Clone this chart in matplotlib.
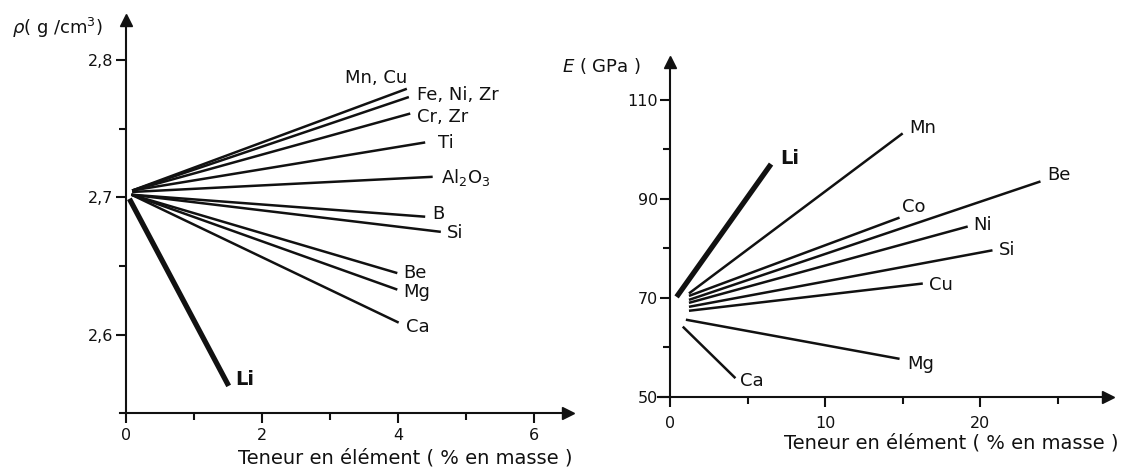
import matplotlib.pyplot as plt

# Masse volumique : droites partant de l'alliage de base (2,70 g/cm3)
rho_noms = ['Mn, Cu', 'Fe, Ni, Zr', 'Cr, Zr', 'Ti', 'Al$_2$O$_3$',
            'B', 'Si', 'Be', 'Mg', 'Ca', 'Li']
rho_x0 = [0.09, 0.09, 0.09, 0.09, 0.09, 0.08, 0.08, 0.08, 0.08, 0.08, 0.05]
rho_y0 = [2.705, 2.705, 2.705, 2.705, 2.704, 2.702, 2.702, 2.702, 2.702, 2.702, 2.699]
rho_x1 = [4.13, 4.16, 4.18, 4.40, 4.51, 4.40, 4.63, 3.99, 3.99, 4.01, 1.51]
rho_y1 = [2.779, 2.773, 2.761, 2.740, 2.715, 2.686, 2.675, 2.645, 2.633, 2.609, 2.563]

# Module d'Young (GPa)
E_noms = ['Li', 'Mn', 'Co', 'Be', 'Ni', 'Si', 'Cu', 'Mg', 'Ca']
E_x0 = [0.4, 1.2, 1.2, 1.2, 1.2, 1.2, 1.2, 1.0, 0.8]
E_y0 = [70.2, 70.9, 70.4, 69.6, 69.0, 68.2, 67.4, 65.6, 64.2]
E_x1 = [6.5, 15.0, 14.8, 23.9, 19.2, 20.8, 16.3, 14.8, 4.2]
E_y1 = [97.0, 103.2, 86.2, 93.5, 84.4, 79.6, 72.9, 57.7, 53.8]

# decalage des etiquettes (pixels) et alignement
rho_decal = [(0, 11, 'right'), (8, 2, 'left'), (7, -3, 'left'), (13, -1, 'left'),
             (8, -1, 'left'), (7, 3, 'left'), (6, -1, 'left'), (6, 0, 'left'),
             (6, -2, 'left'), (7, -4, 'left'), (7, 6, 'left')]
E_decal = [(9, 6), (7, 5), (2, 11), (7, 6), (6, 2), (6, 0), (6, -1), (8, -5), (5, -3)]

W, H = 1122, 468
fig = plt.figure(figsize=(W / 100, H / 100), dpi=100)
encre = '#111111'


def cadre(gauche, droite, bas, haut):
    return fig.add_axes([gauche / W, 1 - bas / H, (droite - gauche) / W, (bas - haut) / H])


def axes_fleches(ax, pad_x):
    for s in ['top', 'right']:
        ax.spines[s].set_visible(False)
    ax.spines['left'].set_position(('data', 0))
    for s in ['left', 'bottom']:
        ax.spines[s].set_linewidth(1.5)
        ax.spines[s].set_color(encre)
    ax.plot(0, 1, '^', ms=8, color=encre, transform=ax.get_xaxis_transform(), clip_on=False)
    ax.plot(1, ax.get_ylim()[0], '>', ms=8, color=encre,
            transform=ax.get_yaxis_transform(), clip_on=False)
    ax.tick_params(which='both', direction='out', width=1.5, color=encre,
                   labelsize=11.5, labelcolor=encre)
    ax.tick_params(which='major', length=7)
    ax.tick_params(which='minor', length=5)
    ax.tick_params(axis='y', pad=2)
    ax.tick_params(axis='x', pad=pad_x)


# --- masse volumique ---
ax1 = cadre(120, 568, 413, 20)
ax1.set_xlim(-0.088, 6.5)
ax1.set_ylim(2.5433, 2.829)
for i, nom in enumerate(rho_noms):
    lw = 3.8 if nom == 'Li' else 1.8
    ax1.plot([rho_x0[i], rho_x1[i]], [rho_y0[i], rho_y1[i]], color=encre, lw=lw,
             solid_capstyle='butt')
    dx, dy, ha = rho_decal[i]
    ax1.annotate(nom, (rho_x1[i], rho_y1[i]), xytext=(dx, dy), textcoords='offset pixels',
                 ha=ha, va='center', fontsize=14 if nom == 'Li' else 13,
                 fontweight='bold' if nom == 'Li' else 'normal', color=encre)
axes_fleches(ax1, 4)
ax1.set_xticks([0, 2, 4, 6])
ax1.set_xticks([1, 3, 5], minor=True)
ax1.set_yticks([2.6, 2.7, 2.8], ['2,6', '2,7', '2,8'])
ax1.set_yticks([2.65, 2.75], minor=True)

# --- module d'Young ---
ax2 = cadre(658, 1108, 397, 62)
ax2.set_xlim(-0.8, 28.26)
ax2.set_ylim(50, 117.6)
for i, nom in enumerate(E_noms):
    lw = 3.8 if nom == 'Li' else 1.8
    ax2.plot([E_x0[i], E_x1[i]], [E_y0[i], E_y1[i]], color=encre, lw=lw,
             solid_capstyle='butt')
    dx, dy = E_decal[i]
    ax2.annotate(nom, (E_x1[i], E_y1[i]), xytext=(dx, dy), textcoords='offset pixels',
                 ha='left', va='center', fontsize=14 if nom == 'Li' else 13,
                 fontweight='bold' if nom == 'Li' else 'normal', color=encre)
axes_fleches(ax2, 7)
ax2.set_xticks([0, 10, 20])
ax2.set_xticks([5, 15, 25], minor=True)
ax2.set_yticks([50, 70, 90, 110])
ax2.set_yticks([60, 80, 100], minor=True)

# titres des axes
fig.text(12 / W, 1 - 28 / H, r'$\rho$( g /cm$^3$)', fontsize=13, va='center', color=encre)
fig.text(562 / W, 1 - 66 / H, r'$E$ ( GPa )', fontsize=13, va='center', color=encre)
fig.text(573 / W, 1 - 458 / H, 'Teneur en élément ( % en masse )', fontsize=14,
         ha='right', va='center', color=encre)
fig.text(1118 / W, 1 - 443 / H, 'Teneur en élément ( % en masse )', fontsize=14,
         ha='right', va='center', color=encre)

fig.savefig('out.png', dpi=100)
